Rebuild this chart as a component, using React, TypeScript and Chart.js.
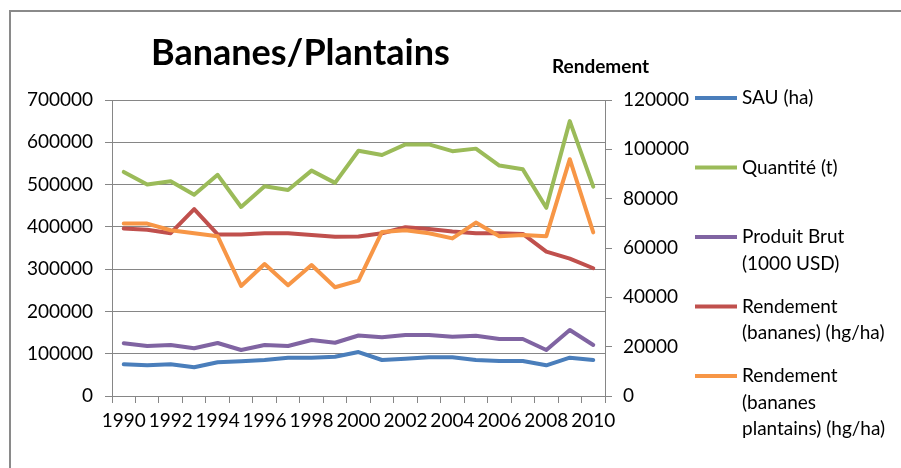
import React, { useEffect, useRef } from "react";
import { Chart, registerables } from "chart.js";

Chart.register(...registerables);

const years = ["1990","1991","1992","1993","1994","1995","1996","1997","1998","1999","2000","2001","2002","2003","2004","2005","2006","2007","2008","2009","2010"];

const sau = [75000, 72600, 75000, 67900, 79700, 82100, 85100, 90600, 90600, 93000, 104000, 85100, 88300, 91500, 91500, 85100, 82700, 82700, 72600, 90600, 85100];
const quantite = [530000, 500000, 508000, 476000, 523000, 447000, 496000, 487000, 533000, 504000, 580000, 570000, 595000, 595000, 579000, 585000, 545000, 536000, 445000, 650000, 495000];
const produitBrut = [124600, 118000, 120600, 112800, 125300, 108800, 120600, 118200, 132400, 126000, 143000, 138800, 144300, 144300, 140300, 142600, 134800, 134800, 108800, 156100, 120600];
// Rendement values in hg/ha (secondary axis)
const rendBananes = [67900, 67400, 66000, 75800, 65500, 65500, 66000, 66000, 65300, 64600, 64700, 66000, 68400, 67700, 66700, 66000, 66000, 65700, 58500, 55700, 51800];
const rendPlantains = [69900, 69900, 67200, 66000, 64800, 44600, 53500, 44900, 53100, 44100, 46800, 66500, 67200, 66000, 63900, 70300, 64800, 65300, 64800, 96000, 66300];

const seriesLabels = ["SAU (ha)", "Quantité (t)", "Produit Brut (1000 USD)", "Rendement (bananes) (hg/ha)", "Rendement (bananes plantains) (hg/ha)"];
const legendLines = [["SAU (ha)"], ["Quantité (t)"], ["Produit Brut", "(1000 USD)"], ["Rendement", "(bananes) (hg/ha)"], ["Rendement", "(bananes", "plantains) (hg/ha)"]];
const colors = ["#4A7EBB", "#9BBB59", "#8064A2", "#C0504D", "#F79646"];

const chartTitle = "Bananes/Plantains";
const rightAxisTitle = "Rendement";

const leftMax = 700000, leftStep = 100000;
const rightMax = 120000, rightStep = 20000;

const FONT = "Lato, 'Open Sans', sans-serif";
const GRID = "#868686";

export default function App() {
  const ref = useRef<HTMLCanvasElement | null>(null);
  useEffect(() => {
    if (!ref.current) return;
    const overlay = {
      id: "overlay",
      afterDraw(chart: any) {
        const ctx = chart.ctx;
        ctx.save();
        ctx.fillStyle = "#000";
        ctx.textAlign = "left";
        ctx.textBaseline = "alphabetic";
        ctx.font = `bold 36px ${FONT}`;
        ctx.fillText(chartTitle, 151, 65);
        ctx.font = `bold 19px ${FONT}`;
        ctx.fillText(rightAxisTitle, 552, 73);
        // legend
        ctx.font = `19px ${FONT}`;
        ctx.textBaseline = "middle";
        legendLines.forEach((lines, i) => {
          const y0 = 98 + i * 69.5;
          ctx.strokeStyle = colors[i];
          ctx.lineWidth = 4;
          ctx.beginPath();
          ctx.moveTo(695, y0);
          ctx.lineTo(737, y0);
          ctx.stroke();
          lines.forEach((t, j) => ctx.fillText(t, 742, y0 + j * 26.5));
        });
        ctx.restore();
      },
    };
    const mk = (i: number, data: number[], axis: string) => ({
      label: seriesLabels[i],
      data,
      yAxisID: axis,
      borderColor: colors[i],
      backgroundColor: colors[i],
      borderWidth: 4,
      pointRadius: 0,
      tension: 0,
      order: 4 - i,
      borderCapStyle: "round" as const,
      borderJoinStyle: "round" as const,
    });
    const plain = (v: any) => String(v);
    const chart = new Chart(ref.current, {
      type: "line",
      data: {
        labels: years,
        datasets: [
          mk(0, sau, "y"),
          mk(1, quantite, "y"),
          mk(2, produitBrut, "y"),
          mk(3, rendBananes, "y1"),
          mk(4, rendPlantains, "y1"),
        ],
      },
      options: {
        responsive: false,
        animation: false,
        layout: { padding: { top: 100, left: 0, right: 0, bottom: 0 } },
        plugins: { legend: { display: false }, title: { display: false }, tooltip: { enabled: false } },
        scales: {
          x: {
            offset: true,
            grid: { offset: true, drawOnChartArea: false, drawTicks: true, tickLength: 7, color: GRID },
            border: { color: GRID, width: 1 },
            ticks: {
              autoSkip: false,
              maxRotation: 0,
              padding: 6,
              color: "#000",
              font: { family: FONT, size: 19 },
              callback: (_v: any, idx: number) => (idx % 2 === 0 ? years[idx] : ""),
            },
            afterFit: (s: any) => { s.height = 72; },
          },
          y: {
            position: "left",
            min: 0,
            max: leftMax,
            ticks: { stepSize: leftStep, padding: 12, color: "#000", font: { family: FONT, size: 19 }, callback: plain },
            grid: { color: GRID, lineWidth: 1, tickLength: 7 },
            border: { color: GRID, width: 1 },
            afterFit: (s: any) => { s.width = 112; },
          },
          y1: {
            position: "right",
            min: 0,
            max: rightMax,
            ticks: { stepSize: rightStep, padding: 11, color: "#000", font: { family: FONT, size: 19 }, callback: plain },
            grid: { drawOnChartArea: false, color: GRID, tickLength: 7 },
            border: { color: GRID, width: 1 },
            afterFit: (s: any) => { s.width = 296; },
          },
        },
      },
      plugins: [overlay],
    } as any);
    return () => chart.destroy();
  }, []);
  return (
    <div style={{ position: "fixed", left: 0, top: 0, width: 901, height: 468, overflow: "hidden", background: "#fff" }}>
      <div style={{ position: "absolute", left: 9, top: 10, width: 1200, height: 1200, borderLeft: "2px solid #8a8a8a", borderTop: "2px solid #8a8a8a" }} />
      <canvas ref={ref} width={901} height={468} style={{ position: "absolute", left: 0, top: 0, width: 901, height: 468 }} />
    </div>
  );
}
